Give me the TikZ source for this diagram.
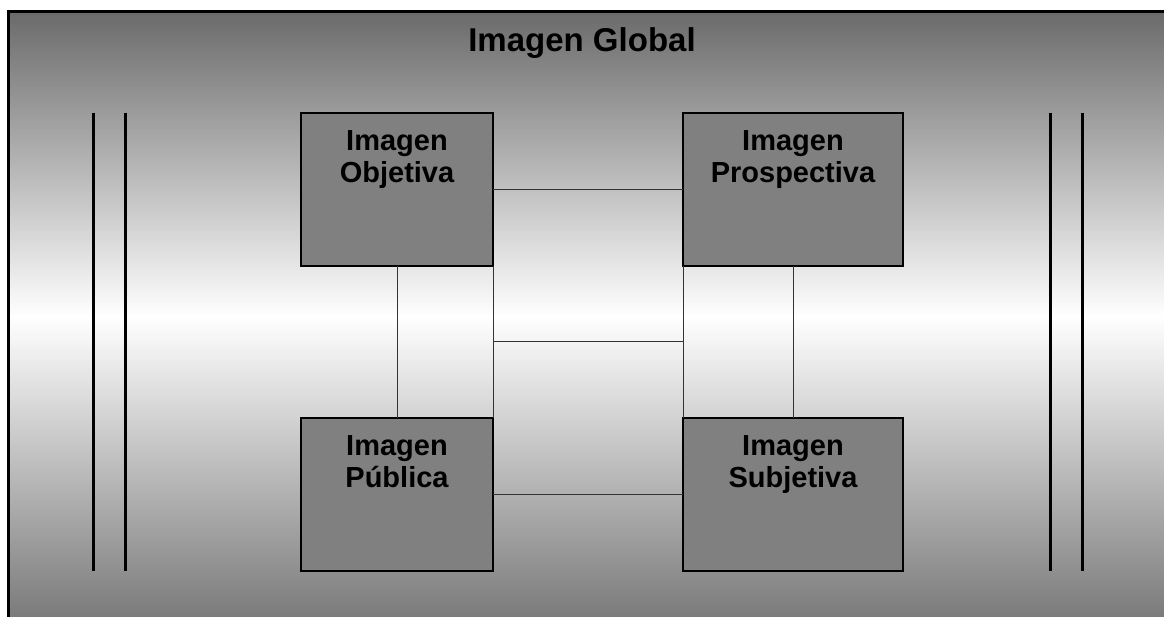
\documentclass[tikz,border=0pt]{standalone}
\usepackage{fontspec}
\setmainfont{Liberation Sans}
\usetikzlibrary{calc}

\tikzset{
  imgbox/.style={draw=black, line width=2pt, fill=black!50, rectangle,
    inner sep=0pt, outer sep=0pt, minimum height=153pt},
  boxtext/.style={anchor=north, align=center, inner sep=0pt, yshift=-17pt,
    font=\fontsize{29}{32}\selectfont\bfseries},
  link/.style={draw=black!80, line width=1pt},
  bar/.style={draw=black, line width=3pt}
}

\begin{document}
\begin{tikzpicture}[x=1pt,y=-1pt]
\useasboundingbox (0,0) rectangle (1164,617);
% background frame, grey to white to grey
\foreach \y in {12,15,...,315} {
  \pgfmathsetmacro\c{(316-\y)*0.1908}
  \fill[black!\c] (8,\y) rectangle (1164,\y+3.3);
}
\foreach \y in {315,318,...,618} {
  \pgfmathsetmacro\c{(\y-315)*0.1722}
  \fill[black!\c] (8,\y) rectangle (1164,\y+3.3);
}
\draw[black, line width=3pt] (8,624) -- (8,12) -- (1172,12);
\node[anchor=base, font=\fontsize{33}{36}\selectfont\bfseries] (title) at (582,52) {Imagen Global};
% side bars
\foreach \x in {93,125,1050,1082}
  \draw[bar] (\x,113) -- (\x,571);
% the four images
\node[imgbox, minimum width=192pt, label={[boxtext]north:Imagen\\Objetiva}] (obj) at (397,189.5) {};
\node[imgbox, minimum width=220pt, label={[boxtext]north:Imagen\\Prospectiva}] (pro) at (793,189.5) {};
\node[imgbox, minimum width=192pt, label={[boxtext]north:Imagen\\Pública}] (pub) at (397,494.5) {};
\node[imgbox, minimum width=220pt, label={[boxtext]north:Imagen\\Subjetiva}] (sub) at (793,494.5) {};
% links
\draw[link] (obj.east) -- (pro.west);
\draw[link] (pub.east) -- (sub.west);
\draw[link] (obj.south) -- (pub.north);
\draw[link] (pro.south) -- (sub.north);
\draw[link] (obj.south east) -- (pub.north east);
\draw[link] (pro.south west) -- (sub.north west);
\draw[link] ($(obj.south east)!0.5!(pub.north east)$) -- ($(pro.south west)!0.5!(sub.north west)$);
\end{tikzpicture}
\end{document}
